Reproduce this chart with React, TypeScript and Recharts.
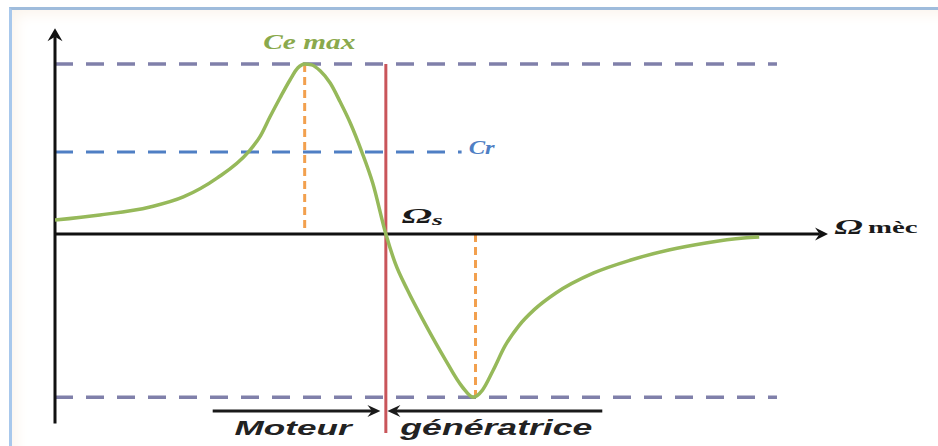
import React from "react";
import {
  ComposedChart,
  Line,
  XAxis,
  YAxis,
  ReferenceLine,
  ReferenceDot,
} from "recharts";

// ---- data ----
const speed = [
  0, 5.8, 12.3, 16.6, 21.0, 25.0, 26.5, 27.8, 29.1, 30.4, 31.4, 32.3,
  33.2, 34.3, 35.6, 36.9, 38.2, 39.7, 41.1, 42.8, 44.0, 45.6, 47.9, 50.3, 52.7,
  54.1, 55.3, 56.7, 58.2, 60.0, 62.0, 64.8, 69.7, 74.5, 79.4, 84.2, 89.1,
  91.1,
];
const torque = [
  0.082, 0.112, 0.159, 0.218, 0.33, 0.482, 0.571, 0.688, 0.8, 0.906,
  0.976, 1.0, 0.995, 0.96, 0.888, 0.776, 0.653, 0.482, 0.3, 0, -0.17, -0.33,
  -0.53, -0.724, -0.9, -0.96, -0.918, -0.8, -0.66, -0.54, -0.445, -0.347,
  -0.229, -0.153, -0.094, -0.053, -0.024, -0.018,
];

const CE_MAX = 1.0;
const C_R = 0.482;
const CE_MIN = -0.96;
const OMEGA_S = 42.8;
const X_PEAK = 32.3;
const X_MIN = 54.4;
const X_END = 100;
const DASH_END = 93.4;
const CR_END = 52.6;
const Y_TOP = 1.21;
const Y_BOTTOM = -1.115;
const RED_BOTTOM = -1.17;
const ARROW_Y = -1.041;
const MOTEUR_FROM = 20.4;
const MOTEUR_TO = 42.1;
const GEN_FROM = 70.8;
const GEN_TO = 43.0;

const labels = {
  ceMax: { x: 32.9, y: 1.129, text: "Ce max" },
  cr: { x: 55.2, y: 0.506, text: "Cr" },
  omegaS: { x: 47.5, y: 0.106 },
  omegaMec: { x: 106.2, y: 0.041 },
  moteur: { x: 30.8, y: -1.141, text: "Moteur" },
  gen: { x: 57.1, y: -1.141, text: "génératrice" },
};

const data = speed.map((s, i) => ({ speed: s, torque: torque[i] }));

const arrowShape =
  (color: string, width: number, headLen: number, headHalf: number) =>
  (props: any) => {
    const { x1, y1, x2, y2 } = props;
    const dx = x2 - x1;
    const dy = y2 - y1;
    const len = Math.sqrt(dx * dx + dy * dy) || 1;
    const ux = dx / len;
    const uy = dy / len;
    const bx = x2 - ux * headLen;
    const by = y2 - uy * headLen;
    const nx = -uy;
    const ny = ux;
    const notchX = x2 - ux * headLen * 0.65;
    const notchY = y2 - uy * headLen * 0.65;
    return (
      <g>
        <line
          x1={x1}
          y1={y1}
          x2={notchX}
          y2={notchY}
          stroke={color}
          strokeWidth={width}
        />
        <polygon
          points={`${x2},${y2} ${bx + nx * headHalf},${by + ny * headHalf} ${notchX},${notchY} ${bx - nx * headHalf},${by - ny * headHalf}`}
          fill={color}
        />
      </g>
    );
  };

const textShape =
  (content: React.ReactNode, style: any, length?: number) => (props: any) => {
    const { cx, cy } = props;
    return (
      <text
        x={cx}
        y={cy}
        textAnchor="middle"
        dominantBaseline="central"
        textLength={length}
        lengthAdjust="spacingAndGlyphs"
        {...style}
      >
        {content}
      </text>
    );
  };

const DASH_COLOR = "#8080aa";
const CR_COLOR = "#4f7fc4";
const ORANGE = "#f2a04e";
const RED = "#c9555a";
const GREEN = "#96b95a";

export default function App() {
  return (
    <div
      style={{
        position: "fixed",
        left: 0,
        top: 0,
        width: 938,
        height: 446,
        background: "#ffffff",
        overflow: "hidden",
      }}
    >
      <div
        style={{
          position: "absolute",
          left: 9,
          top: 7,
          width: 940,
          height: 450,
          borderTop: "3px solid #9fbcdc",
          borderLeft: "3px solid #a8c8ec",
          boxShadow: "inset 10px 10px 14px -6px #fbf4ec",
        }}
      />
      <div style={{ position: "absolute", left: 0, top: 0 }}>
        <ComposedChart
          width={938}
          height={446}
          data={data}
          margin={{ top: 21.5, right: 110, bottom: 8, left: 55 }}
        >
          <XAxis
            type="number"
            dataKey="speed"
            domain={[0, X_END]}
            allowDataOverflow
            hide
          />
          <YAxis
            type="number"
            domain={[-1.2, 1.25]}
            allowDataOverflow
            hide
          />

          {/* dashed reference levels */}
          <ReferenceLine
            segment={[
              { x: 0, y: CE_MAX },
              { x: DASH_END, y: CE_MAX },
            ]}
            stroke={DASH_COLOR}
            strokeWidth={3.5}
            strokeDasharray="18 13"
          />
          <ReferenceLine
            segment={[
              { x: 0, y: C_R },
              { x: CR_END, y: C_R },
            ]}
            stroke={CR_COLOR}
            strokeWidth={3}
            strokeDasharray="18 13"
          />
          <ReferenceLine
            segment={[
              { x: 0, y: CE_MIN },
              { x: DASH_END, y: CE_MIN },
            ]}
            stroke={DASH_COLOR}
            strokeWidth={3.5}
            strokeDasharray="18 13"
          />

          {/* orange drop lines */}
          <ReferenceLine
            segment={[
              { x: X_PEAK, y: CE_MAX },
              { x: X_PEAK, y: 0 },
            ]}
            stroke={ORANGE}
            strokeWidth={3}
            strokeDasharray="8 5"
          />
          <ReferenceLine
            segment={[
              { x: X_MIN, y: 0 },
              { x: X_MIN, y: CE_MIN },
            ]}
            stroke={ORANGE}
            strokeWidth={3}
            strokeDasharray="8 5"
          />

          {/* axes */}
          <ReferenceLine
            segment={[
              { x: 0, y: Y_BOTTOM },
              { x: 0, y: Y_TOP },
            ]}
            shape={arrowShape("#111111", 3, 13, 7.5)}
          />
          <ReferenceLine
            segment={[
              { x: 0, y: 0 },
              { x: X_END, y: 0 },
            ]}
            shape={arrowShape("#111111", 3, 13, 6.5)}
          />

          {/* synchronous speed */}
          <ReferenceLine
            segment={[
              { x: OMEGA_S, y: CE_MAX },
              { x: OMEGA_S, y: RED_BOTTOM },
            ]}
            stroke={RED}
            strokeWidth={3}
          />

          {/* moteur / génératrice arrows */}
          <ReferenceLine
            segment={[
              { x: MOTEUR_FROM, y: ARROW_Y },
              { x: MOTEUR_TO, y: ARROW_Y },
            ]}
            shape={arrowShape("#1a1a1a", 3, 13, 6)}
          />
          <ReferenceLine
            segment={[
              { x: GEN_FROM, y: ARROW_Y },
              { x: GEN_TO, y: ARROW_Y },
            ]}
            shape={arrowShape("#1a1a1a", 3, 13, 6)}
          />

          <Line
            type="monotone"
            dataKey="torque"
            stroke={GREEN}
            strokeWidth={3.5}
            dot={false}
            activeDot={false}
            isAnimationActive={false}
          />

          {/* labels */}
          <ReferenceDot
            x={labels.ceMax.x}
            y={labels.ceMax.y}
            r={0}
            ifOverflow="visible"
            shape={textShape(
              labels.ceMax.text,
              {
                fill: "#8aa94c",
                fontFamily: "'Liberation Serif', 'DejaVu Serif', serif",
                fontStyle: "italic",
                fontWeight: 700,
                fontSize: 20,
              },
              92
            )}
          />
          <ReferenceDot
            x={labels.cr.x}
            y={labels.cr.y}
            r={0}
            ifOverflow="visible"
            shape={textShape(
              labels.cr.text,
              {
                fill: CR_COLOR,
                fontFamily: "'Liberation Serif', 'DejaVu Serif', serif",
                fontStyle: "italic",
                fontWeight: 700,
                fontSize: 19,
              },
              26
            )}
          />
          <ReferenceDot
            x={labels.omegaS.x}
            y={labels.omegaS.y}
            r={0}
            ifOverflow="visible"
            shape={textShape(
              <>
                Ω
                <tspan fontSize={15} dy={4}>
                  s
                </tspan>
              </>,
              {
                fill: "#1a1a1a",
                fontFamily: "'Liberation Serif', 'DejaVu Serif', serif",
                fontStyle: "italic",
                fontWeight: 700,
                fontSize: 22,
              },
              41
            )}
          />
          <ReferenceDot
            x={labels.omegaMec.x}
            y={labels.omegaMec.y}
            r={0}
            ifOverflow="visible"
            shape={textShape(
              <>
                Ω
                <tspan fontStyle="normal" fontSize={16} dx={3}>
                  mèc
                </tspan>
              </>,
              {
                fill: "#1a1a1a",
                fontFamily: "'Liberation Serif', 'DejaVu Serif', serif",
                fontStyle: "italic",
                fontWeight: 700,
                fontSize: 21,
              },
              83
            )}
          />
          <ReferenceDot
            x={labels.moteur.x}
            y={labels.moteur.y}
            r={0}
            ifOverflow="visible"
            shape={textShape(
              labels.moteur.text,
              {
                fill: "#222222",
                fontFamily: "'Liberation Sans', Arial, sans-serif",
                fontStyle: "italic",
                fontWeight: 700,
                fontSize: 21,
              },
              117
            )}
          />
          <ReferenceDot
            x={labels.gen.x}
            y={labels.gen.y}
            r={0}
            ifOverflow="visible"
            shape={textShape(
              labels.gen.text,
              {
                fill: "#222222",
                fontFamily: "'Liberation Sans', Arial, sans-serif",
                fontStyle: "italic",
                fontWeight: 700,
                fontSize: 22,
              },
              192
            )}
          />
        </ComposedChart>
      </div>
    </div>
  );
}
